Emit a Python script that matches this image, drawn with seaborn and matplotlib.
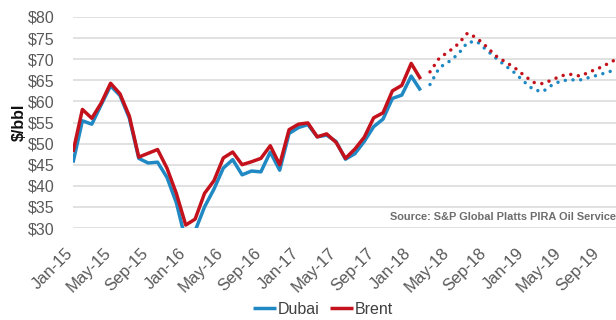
import numpy as np
import pandas as pd
import matplotlib
matplotlib.use("Agg")
import matplotlib.pyplot as plt
import matplotlib.transforms as mtransforms
import seaborn as sns

# Monthly crude prices, $/bbl, month 0 = Jan-15
dubai_actual = [45.5, 55.4, 54.6, 59.2, 63.7, 61.4, 56.0, 46.5, 45.4, 45.6, 42.0, 36.0,
                27.0, 29.3, 35.0, 39.2, 44.2, 46.2, 42.6, 43.5, 43.3, 48.0, 43.7, 52.4,
                53.8, 54.5, 51.6, 52.0, 50.5, 46.3, 47.6, 50.5, 54.0, 55.8, 60.7, 61.5,
                66.0, 62.6]
brent_actual = [48.0, 58.1, 56.0, 59.6, 64.3, 61.8, 56.5, 46.8, 47.7, 48.6, 44.2, 38.2,
                30.7, 32.1, 38.2, 41.2, 46.6, 48.0, 45.0, 45.7, 46.5, 49.5, 45.0, 53.3,
                54.6, 54.9, 51.6, 52.3, 50.3, 46.5, 48.7, 51.5, 56.1, 57.3, 62.5, 63.8,
                69.0, 65.3]
# Forecast, starting Mar-18
dubai_forecast = [64.0, 68.0, 69.4, 71.2, 74.0, 74.2, 72.2, 70.3, 68.5, 66.8, 64.7, 62.8,
                  62.3, 63.9, 64.9, 65.1, 65.1, 65.7, 66.3, 67.0, 67.6]
brent_forecast = [67.0, 70.3, 71.8, 73.6, 76.2, 75.0, 73.0, 70.8, 69.4, 68.0, 66.2, 64.5,
                  64.2, 65.1, 66.1, 66.4, 66.0, 67.0, 67.9, 69.0, 70.2]

tick_labels = ["Jan-15", "May-15", "Sep-15", "Jan-16", "May-16", "Sep-16",
               "Jan-17", "May-17", "Sep-17", "Jan-18", "May-18", "Sep-18",
               "Jan-19", "May-19", "Sep-19"]
y_ticks = [30, 35, 40, 45, 50, 55, 60, 65, 70, 75, 80]

BLUE = "#2089c3"
RED = "#c4121c"

sns.set_theme(style="white")
plt.rcParams["font.family"] = ["Liberation Sans", "DejaVu Sans"]

n_act = len(brent_actual)
n_fc = len(brent_forecast)
actual = pd.DataFrame({
    "month": np.arange(n_act),
    "Dubai": dubai_actual,
    "Brent": brent_actual,
})
forecast = pd.DataFrame({
    "month": np.arange(n_act, n_act + n_fc),
    "Dubai": dubai_forecast,
    "Brent": brent_forecast,
})

fig = plt.figure(figsize=(6.16, 3.20), dpi=100)
ax = fig.add_axes([73 / 616, 1 - 228 / 320, 543 / 616, 211 / 320])

lw = 2.5
sns.lineplot(data=actual, x="month", y="Dubai", ax=ax, color=BLUE, lw=lw,
             label="Dubai", solid_capstyle="butt")
sns.lineplot(data=actual, x="month", y="Brent", ax=ax, color=RED, lw=lw,
             label="Brent", solid_capstyle="butt")
dot = (0, (0.01, 2.2))
sns.lineplot(data=forecast, x="month", y="Dubai", ax=ax, color=BLUE, lw=lw,
             linestyle=dot, dash_capstyle="round", legend=False)
sns.lineplot(data=forecast, x="month", y="Brent", ax=ax, color=RED, lw=lw,
             linestyle=dot, dash_capstyle="round", legend=False)

ax.set_xlim(0, 57.8)
ax.set_ylim(30, 80)
ax.set_yticks(y_ticks)
ax.set_yticklabels([f"${v}" for v in y_ticks])
ax.set_xticks(np.arange(0, 4 * len(tick_labels), 4))
ax.set_xticklabels(tick_labels, rotation=45, ha="right", va="top")
ax.tick_params(axis="y", length=0, labelsize=11.5, colors="#595959", pad=13)
ax.tick_params(axis="x", length=0, labelsize=12, colors="#595959", pad=11)
shift = mtransforms.ScaledTranslation(3 / 100, -2 / 100, fig.dpi_scale_trans)
for lab in ax.get_xticklabels():
    lab.set_transform(lab.get_transform() + shift)
for spine in ax.spines.values():
    spine.set_visible(False)
ax.grid(axis="y", color="#d9d9d9", lw=1.1)
ax.set_axisbelow(True)
ax.set_xlabel("")
ax.set_ylabel("$/bbl", fontsize=11.5, fontweight="bold", color="#111111", labelpad=1)

ax.legend_.remove()
handles, labels = ax.get_legend_handles_labels()
fig.legend(handles[:2], labels[:2], loc="center", ncol=2, frameon=False,
           bbox_to_anchor=(323 / 616, 1 - 309 / 320), fontsize=11.5,
           handlelength=1.4, handletextpad=0.1, columnspacing=0.7,
           labelcolor="#404040")

fig.text(390 / 616, 1 - 217 / 320, "Source: S&P Global Platts PIRA Oil Service",
         fontsize=7.9, fontweight="bold", color="#6e6e6e", va="center", ha="left")

fig.savefig("out.png", dpi=100)
